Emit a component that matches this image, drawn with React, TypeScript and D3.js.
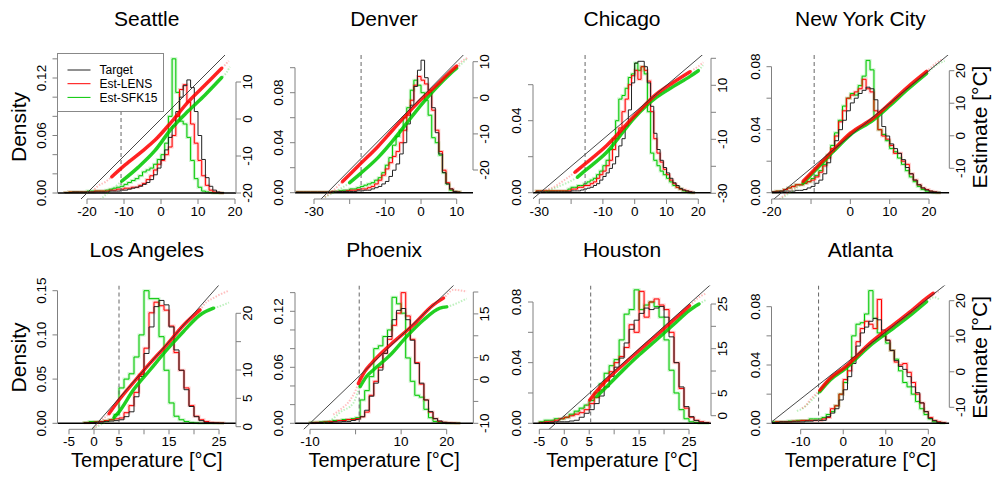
import React from "react";
import * as d3 from "d3";

type Pair = [number, number];

const FONT = "'Liberation Sans', Arial, Helvetica, sans-serif";
const RED = "#ff0000";
const GREEN = "#00c800";
const AXIS = "#808080";

// ---------------- data ----------------
const cityNames = ["Seattle", "Denver", "Chicago", "New York City", "Los Angeles", "Phoenix", "Houston", "Atlanta"];
const seriesNames = ["Target", "Est-LENS", "Est-SFK15"];

// Seattle (1°C bins from seaStart)
const seaStart = -26;
const seaTarget = [0.0005, 0.0005, 0.001, 0.001, 0.001, 0.001, 0.001, 0.001, 0.001, 0.001,
  0.001, 0.001, 0.002, 0.002, 0.002, 0.003, 0.003, 0.004, 0.005, 0.006,
  0.007, 0.009, 0.011, 0.014, 0.019, 0.026,
  0.035, 0.045, 0.058, 0.070, 0.085, 0.100, 0.112, 0.118, 0.110, 0.085,
  0.060, 0.035, 0.016, 0.007, 0.003, 0.001, 0.0005];
const seaLens = [0.0005, 0.001, 0.001, 0.001, 0.001, 0.001, 0.001, 0.001, 0.002, 0.002,
  0.002, 0.002, 0.003, 0.003, 0.004, 0.004, 0.005, 0.005, 0.006, 0.006,
  0.008, 0.010, 0.014, 0.018, 0.024, 0.030,
  0.034, 0.040, 0.048, 0.060, 0.080, 0.108, 0.113, 0.095, 0.072, 0.052,
  0.034, 0.018, 0.008, 0.003, 0.001, 0.0005, 0];
const seaSfk = [0.0005, 0.001, 0.001, 0.001, 0.001, 0.001, 0.002, 0.002, 0.002, 0.002,
  0.002, 0.003, 0.004, 0.005, 0.006, 0.007, 0.009, 0.011, 0.013, 0.015,
  0.018, 0.022, 0.024, 0.026, 0.030, 0.035,
  0.040, 0.052, 0.080, 0.140, 0.105, 0.075, 0.072, 0.058, 0.034, 0.015,
  0.006, 0.002, 0.001, 0.0005, 0, 0, 0];
const seaLensQQ: Pair[] = [[-18, -19], [-16.9, -18], [-15, -17], [-13.3, -15.6], [-9.7, -12.4], [-5.2, -8.8], [-1.6, -5.7], [2.9, -0.7], [7.4, 4.7], [11.9, 9.2], [16.4, 13.7], [17.5, 14.8], [18.3, 15.7]];
const seaLensCore = [3, 11];
const seaSfkQQ: Pair[] = [[-17, -22.4], [-15, -20.5], [-13, -18.8], [-10.6, -16.8], [-6.1, -13], [-1.6, -8.5], [2.9, -2.5], [7.4, 2.2], [11.9, 6.5], [16.4, 11.2], [17.6, 12.4], [18.6, 14.1]];
const seaSfkCore = [3, 10];
const seaCut = -10.8;

// Denver
const denStart = -35;
const denTarget = [0.0005, 0.0005, 0.0005, 0.0005, 0.0005, 0.0005, 0.0005, 0.0005, 0.0005, 0.0005,
  0.001, 0.001, 0.001, 0.001, 0.001, 0.001, 0.001, 0.0015, 0.0015, 0.002,
  0.002, 0.003, 0.004, 0.005, 0.007, 0.009, 0.013, 0.018, 0.023, 0.031,
  0.040, 0.055, 0.070, 0.085, 0.098, 0.106, 0.092, 0.082, 0.068, 0.048,
  0.031, 0.016, 0.007, 0.003, 0.001, 0.0005];
const denLens = [0.0005, 0.0005, 0.0005, 0.0005, 0.0005, 0.0005, 0.0005, 0.0005, 0.0005, 0.0005,
  0.001, 0.001, 0.001, 0.001, 0.0015, 0.002, 0.002, 0.0025, 0.003, 0.003,
  0.004, 0.005, 0.007, 0.010, 0.014, 0.019, 0.024, 0.029, 0.033, 0.040,
  0.050, 0.062, 0.074, 0.086, 0.093, 0.090, 0.087, 0.080, 0.066, 0.050,
  0.033, 0.018, 0.008, 0.003, 0.001, 0.0005];
const denSfk = [0.0005, 0.0005, 0.0005, 0.0005, 0.0005, 0.0005, 0.0005, 0.0005, 0.0005, 0.0005,
  0.001, 0.001, 0.0015, 0.002, 0.002, 0.003, 0.003, 0.004, 0.005, 0.006,
  0.007, 0.008, 0.010, 0.012, 0.016, 0.022, 0.028, 0.038, 0.045, 0.050,
  0.060, 0.068, 0.082, 0.090, 0.086, 0.080, 0.074, 0.062, 0.044, 0.040,
  0.030, 0.016, 0.007, 0.002, 0.001, 0.0005];
const denLensQQ: Pair[] = [[-27, -27.5], [-25, -26], [-22, -23.2], [-17, -18.3], [-12, -13.4], [-8, -9], [-4, -4.6], [0, -0.5], [4, 3.2], [8, 7], [10, 8.8], [12, 10.5], [13, 11]];
const denLensCore = [2, 11];
const denSfkQQ: Pair[] = [[-27, -27.5], [-24, -26], [-20, -23.5], [-17, -21], [-12, -16.5], [-8, -12], [-4, -7], [0, -2], [4, 2.5], [8, 6.5], [10, 8.2], [12, 10], [13, 11]];
const denSfkCore = [2, 11];
const denCut = -16.8;

// Chicago
const chiStart = -31;
const chiTarget = [0.0005, 0.0005, 0.0005, 0.0005, 0.0005, 0.0005, 0.0005, 0.0005, 0.0005, 0.0005,
  0.0005, 0.001, 0.001, 0.001, 0.0015, 0.002, 0.0025, 0.003, 0.004, 0.005,
  0.007, 0.009, 0.011, 0.0135, 0.016, 0.020, 0.026, 0.030, 0.037, 0.046,
  0.061, 0.072, 0.073, 0.073, 0.070, 0.061, 0.048, 0.033, 0.024, 0.018,
  0.014, 0.011, 0.008, 0.0055, 0.004, 0.0024, 0.0015, 0.001, 0.0005, 0.0003];
const chiLens = [0.001, 0.001, 0.001, 0.001, 0.001, 0.001, 0.001, 0.001, 0.001, 0.001,
  0.001, 0.002, 0.002, 0.003, 0.003, 0.004, 0.004, 0.005, 0.006, 0.008,
  0.010, 0.012, 0.015, 0.018, 0.024, 0.030, 0.036, 0.045, 0.052, 0.060,
  0.065, 0.068, 0.063, 0.070, 0.068, 0.062, 0.045, 0.030, 0.022, 0.017,
  0.013, 0.010, 0.007, 0.005, 0.003, 0.002, 0.0015, 0.001, 0.0005, 0];
const chiSfk = [0.001, 0.001, 0.001, 0.001, 0.001, 0.001, 0.001, 0.001, 0.001, 0.001,
  0.002, 0.003, 0.003, 0.004, 0.004, 0.005, 0.006, 0.007, 0.008, 0.010,
  0.012, 0.015, 0.018, 0.024, 0.030, 0.040, 0.052, 0.054, 0.058, 0.064,
  0.066, 0.072, 0.068, 0.070, 0.066, 0.045, 0.022, 0.018, 0.015, 0.012,
  0.010, 0.008, 0.006, 0.004, 0.003, 0.002, 0.001, 0.0005, 0, 0];
const chiLensQQ: Pair[] = [[-29, -29], [-26, -28], [-22, -25], [-18.8, -22.2], [-15.6, -19.1], [-8.8, -12.3], [0, -1.2], [6.9, 6.8], [12.2, 11.1], [17.4, 15], [20, 17], [21.6, 18.5]];
const chiLensCore = [3, 10];
const chiSfkQQ: Pair[] = [[-28, -29.5], [-25, -28], [-22, -26.5], [-18, -24], [-15.6, -21.6], [-8.8, -14.8], [0, -1.9], [6.9, 5.6], [12.2, 9.6], [17.4, 13.3], [20, 15.4], [21.5, 17.5]];
const chiSfkCore = [3, 11];
const chiCut = -15.6;

// New York City
const nycStart = -20;
const nycTarget = [0.0005, 0.0005, 0.001, 0.001, 0.001, 0.001, 0.0015, 0.0015, 0.002, 0.003,
  0.004, 0.006, 0.008, 0.012, 0.019, 0.026, 0.033, 0.040, 0.046, 0.052,
  0.057, 0.060, 0.063, 0.065, 0.067, 0.066, 0.059, 0.051, 0.042, 0.036,
  0.031, 0.028, 0.025, 0.021, 0.016, 0.012, 0.008, 0.005, 0.003, 0.0017,
  0.001, 0.0005, 0.0003];
const nycLens = [0.0005, 0.001, 0.001, 0.002, 0.003, 0.004, 0.005, 0.005, 0.006, 0.007,
  0.008, 0.010, 0.013, 0.017, 0.022, 0.028, 0.036, 0.045, 0.052, 0.060,
  0.062, 0.064, 0.066, 0.072, 0.066, 0.064, 0.052, 0.040, 0.036, 0.034,
  0.030, 0.025, 0.025, 0.020, 0.018, 0.012, 0.008, 0.005, 0.003, 0.002,
  0.001, 0.0005, 0];
const nycSfk = [0.0005, 0.001, 0.001, 0.002, 0.003, 0.004, 0.005, 0.005, 0.006, 0.007,
  0.009, 0.011, 0.014, 0.018, 0.024, 0.030, 0.038, 0.046, 0.055, 0.060,
  0.063, 0.062, 0.068, 0.074, 0.084, 0.078, 0.048, 0.040, 0.037, 0.033,
  0.028, 0.026, 0.022, 0.018, 0.014, 0.010, 0.007, 0.004, 0.002, 0.001,
  0.0005, 0, 0];
const nycLensQQ: Pair[] = [[-18, -19.5], [-16, -17.5], [-14, -16], [-12, -14], [-9.2, -10.5], [-4.3, -4.3], [0, 0.8], [5.8, 5.4], [10.1, 10], [14.3, 14.7], [19.4, 19.8], [22, 22.5], [23.5, 23.5]];
const nycLensCore = [3, 11];
const nycSfkQQ: Pair[] = [[-18, -19.8], [-16, -18], [-14, -16.3], [-12, -14.5], [-9.2, -11], [-4.3, -4.8], [0, 0.3], [5.8, 4.8], [10.1, 9.3], [14.3, 14], [19.4, 19.2], [22, 21.8], [24, 23]];
const nycSfkCore = [3, 11];
const nycCut = -9.2;

// Los Angeles
const laStart = -2;
const laTarget = [0.0003, 0.0005, 0.001, 0.0015, 0.002, 0.0025, 0.003, 0.004, 0.0075, 0.013,
  0.030, 0.053, 0.079, 0.109, 0.132, 0.139, 0.134, 0.109, 0.083, 0.060,
  0.038, 0.019, 0.0075, 0.003, 0.001, 0.0005, 0.0003, 0];
const laLens = [0.0005, 0.001, 0.0015, 0.002, 0.003, 0.004, 0.005, 0.006, 0.012, 0.020,
  0.035, 0.055, 0.085, 0.125, 0.137, 0.133, 0.128, 0.110, 0.080, 0.060,
  0.040, 0.020, 0.008, 0.004, 0.002, 0.001, 0.0005, 0.0003];
const laSfk = [0.001, 0.002, 0.002, 0.002, 0.003, 0.004, 0.010, 0.040, 0.050, 0.056,
  0.075, 0.100, 0.150, 0.141, 0.141, 0.098, 0.060, 0.023, 0.008, 0.004,
  0.002, 0.001, 0.0005, 0, 0, 0, 0, 0];
const laLensQQ: Pair[] = [[0, -0.3], [1.2, 0.9], [3, 2.3], [5, 4.7], [8, 7.9], [11.2, 11.2], [14.5, 14.4], [17.9, 17.9], [21.2, 20.6], [22.5, 22], [23.5, 22.5], [24.5, 23], [27, 24]];
const laLensCore = [2, 9];
const laSfkQQ: Pair[] = [[-0.8, -0.6], [1, 0.2], [2.5, 0.9], [4, 1.6], [5, 2.6], [7.9, 6.5], [11.2, 10], [14.5, 13.5], [17.9, 16.8], [21.2, 19.7], [23.9, 20.9], [25, 21.2], [27, 21.9]];
const laSfkCore = [3, 11];
const laCut = 5;

// Phoenix
const phxStart = -10;
const phxTarget = [0.0005, 0.0005, 0.001, 0.001, 0.001, 0.0015, 0.0015, 0.002, 0.002, 0.003,
  0.004, 0.007, 0.014, 0.029, 0.043, 0.057, 0.075, 0.093, 0.111, 0.121,
  0.123, 0.111, 0.089, 0.064, 0.043, 0.025, 0.0125, 0.005, 0.0025, 0.001,
  0.0005, 0.0003, 0];
const phxLens = [0.0005, 0.001, 0.001, 0.0015, 0.002, 0.002, 0.003, 0.003, 0.004, 0.004,
  0.005, 0.007, 0.012, 0.030, 0.045, 0.060, 0.075, 0.090, 0.105, 0.118,
  0.140, 0.115, 0.090, 0.065, 0.042, 0.025, 0.012, 0.005, 0.002, 0.001,
  0.0005, 0.0003, 0];
const phxSfk = [0.001, 0.001, 0.0015, 0.002, 0.002, 0.003, 0.003, 0.004, 0.004, 0.005,
  0.006, 0.025, 0.035, 0.050, 0.080, 0.083, 0.093, 0.100, 0.135, 0.128,
  0.118, 0.070, 0.045, 0.030, 0.028, 0.015, 0.006, 0.002, 0.001, 0.0005,
  0, 0, 0];
const phxLensQQ: Pair[] = [[-4.9, -8], [-3.4, -6.9], [-1.2, -4.7], [0, -2.5], [0.6, -0.9], [2, 1.8], [3.5, 3.7], [7.6, 7.9], [12.7, 12.5], [17, 17], [19.3, 18.6], [21.5, 20.5], [24.4, 20.1]];
const phxLensCore = [4, 11];
const phxSfkQQ: Pair[] = [[-7, -10], [-5, -9], [-3.4, -7.5], [-0.5, -5.4], [1, -1.6], [2.4, 0.7], [3.9, 2.2], [7.6, 5.6], [11.2, 9.8], [14.9, 13.6], [18.5, 16.3], [20, 16.6], [24.4, 18.5]];
const phxSfkCore = [4, 12];
const phxCut = 0.8;

// Houston
const houStart = -5;
const houTarget = [0.0003, 0.0005, 0.0007, 0.001, 0.001, 0.001, 0.0015, 0.002, 0.004, 0.0066,
  0.009, 0.013, 0.018, 0.024, 0.031, 0.037, 0.043, 0.053, 0.062, 0.068,
  0.0725, 0.076, 0.075, 0.076, 0.077, 0.070, 0.057, 0.040, 0.024, 0.011,
  0.0044, 0.0018, 0.0007, 0.0003];
const houLens = [0.0005, 0.001, 0.001, 0.002, 0.003, 0.004, 0.005, 0.006, 0.007, 0.009,
  0.013, 0.017, 0.022, 0.028, 0.034, 0.040, 0.044, 0.050, 0.065, 0.060,
  0.087, 0.070, 0.080, 0.082, 0.078, 0.075, 0.060, 0.040, 0.023, 0.010,
  0.004, 0.002, 0.001, 0.0005];
const houSfk = [0.001, 0.002, 0.002, 0.003, 0.003, 0.004, 0.006, 0.008, 0.010, 0.012,
  0.015, 0.020, 0.026, 0.033, 0.038, 0.042, 0.055, 0.072, 0.075, 0.088,
  0.075, 0.078, 0.080, 0.077, 0.070, 0.055, 0.035, 0.020, 0.009, 0.003,
  0.001, 0.0005, 0, 0];
const houLensQQ: Pair[] = [[-4.9, -1.6], [-2, -1], [1.8, 0.2], [4, 1.8], [5.1, 3.5], [6.5, 5.5], [8.5, 8], [11.8, 11.4], [15.1, 14.7], [18.5, 18], [21.8, 21.3], [25.1, 24.6], [27, 26.5], [28.5, 27.4]];
const houLensCore = [4, 12];
const houSfkQQ: Pair[] = [[-1, -1], [1.5, 0], [4, 2], [6.5, 4.3], [8.5, 6.5], [11.8, 10.2], [15.1, 13.7], [18.5, 17], [21.8, 20.3], [25.1, 23.6], [27, 25], [28.5, 26]];
const houSfkCore = [3, 11];
const houCut = 5.3;

// Atlanta
const atlStart = -17;
const atlTarget = [0.0005, 0.0005, 0.001, 0.001, 0.001, 0.001, 0.001, 0.001, 0.0015, 0.0015,
  0.002, 0.002, 0.002, 0.0045, 0.007, 0.010, 0.016, 0.023, 0.032, 0.041,
  0.053, 0.062, 0.066, 0.070, 0.072, 0.071, 0.064, 0.057, 0.050, 0.043,
  0.039, 0.037, 0.032, 0.025, 0.021, 0.014, 0.008, 0.0034, 0.0018, 0.0007,
  0.0003];
const atlLens = [0.0005, 0.001, 0.001, 0.001, 0.001, 0.0015, 0.0015, 0.002, 0.002, 0.002,
  0.002, 0.002, 0.003, 0.004, 0.010, 0.012, 0.020, 0.030, 0.036, 0.045,
  0.056, 0.065, 0.070, 0.068, 0.065, 0.085, 0.060, 0.057, 0.050, 0.042,
  0.040, 0.041, 0.035, 0.028, 0.020, 0.014, 0.008, 0.004, 0.002, 0.001,
  0.0005];
const atlSfk = [0.001, 0.001, 0.001, 0.001, 0.0015, 0.0015, 0.002, 0.002, 0.002, 0.003,
  0.003, 0.003, 0.004, 0.006, 0.008, 0.012, 0.020, 0.028, 0.040, 0.060,
  0.068, 0.069, 0.075, 0.091, 0.072, 0.062, 0.060, 0.055, 0.050, 0.044,
  0.036, 0.028, 0.025, 0.020, 0.015, 0.010, 0.006, 0.003, 0.001, 0.0005,
  0];
const atlLensQQ: Pair[] = [[-7.4, -10.3], [-6.5, -9.5], [-5.6, -8], [-3.4, -5.2], [-1.1, -1.8], [2.2, 1.3], [7.7, 8], [13, 13.3], [17, 17.2], [20.3, 20.7], [21.8, 22.1], [23, 22.5]];
const atlLensCore = [3, 11];
const atlSfkQQ: Pair[] = [[-8.5, -11], [-7.4, -10.5], [-5.6, -8.5], [-3.4, -5.6], [-1.1, -2.3], [2.2, 0.8], [7.7, 7.3], [13, 12.3], [17, 16.2], [20.3, 19.7], [22, 21], [23.3, 20.2]];
const atlSfkCore = [3, 10];
const atlCut = -5.8;

// tick values and which of them carry labels
const seaXTicks = [-20, -10, 0, 10, 20], seaXLabels = [-20, -10, 0, 10, 20];
const seaDTicks = [0, 0.02, 0.04, 0.06, 0.08, 0.1, 0.12, 0.14], seaDLabels = [0, 0.06, 0.12];
const seaETicks = [-20, -10, 0, 10], seaELabels = [-20, -10, 0, 10];
const denXTicks = [-30, -20, -10, 0, 10], denXLabels = [-30, -10, 0, 10];
const denDTicks = [0, 0.02, 0.04, 0.06, 0.08, 0.1], denDLabels = [0, 0.04, 0.08];
const denETicks = [-20, -10, 0, 10], denELabels = [-20, -10, 0, 10];
const chiXTicks = [-30, -20, -10, 0, 10, 20], chiXLabels = [-30, -10, 0, 10, 20];
const chiDTicks = [0, 0.02, 0.04, 0.06], chiDLabels = [0, 0.04];
const chiETicks = [-30, -20, -10, 0, 10, 20], chiELabels = [-30, -10, 10];
const nycXTicks = [-20, -10, 0, 10, 20], nycXLabels = [-20, 0, 10, 20];
const nycDTicks = [0, 0.02, 0.04, 0.06, 0.08], nycDLabels = [0, 0.04, 0.08];
const nycETicks = [-10, 0, 10, 20], nycELabels = [-10, 0, 10, 20];
const laXTicks = [-5, 0, 5, 10, 15, 20, 25], laXLabels = [-5, 0, 5, 15, 25];
const laDTicks = [0, 0.05, 0.1, 0.15], laDLabels = [0, 0.05, 0.1, 0.15];
const laETicks = [0, 5, 10, 15, 20], laELabels = [0, 5, 10, 20];
const phxXTicks = [-10, 0, 10, 20], phxXLabels = [-10, 10, 20];
const phxDTicks = [0, 0.02, 0.04, 0.06, 0.08, 0.1, 0.12, 0.14], phxDLabels = [0, 0.06, 0.12];
const phxETicks = [-10, -5, 0, 5, 10, 15, 20], phxELabels = [-10, 0, 5, 15];
const houXTicks = [-5, 0, 5, 10, 15, 20, 25], houXLabels = [-5, 0, 5, 15, 25];
const houDTicks = [0, 0.02, 0.04, 0.06, 0.08], houDLabels = [0, 0.04, 0.08];
const houETicks = [0, 5, 10, 15, 20, 25], houELabels = [0, 5, 15, 25];
const atlXTicks = [-10, 0, 10, 20], atlXLabels = [-10, 0, 10, 20];
const atlDTicks = [0, 0.02, 0.04, 0.06, 0.08], atlDLabels = [0, 0.04, 0.08];
const atlETicks = [-10, 0, 10, 20], atlELabels = [-10, 0, 10, 20];

const panels = [
  { start: seaStart, target: seaTarget, lens: seaLens, sfk: seaSfk, lensQQ: seaLensQQ, lensCore: seaLensCore, sfkQQ: seaSfkQQ, sfkCore: seaSfkCore, cut: seaCut, xT: seaXTicks, xL: seaXLabels, dT: seaDTicks, dL: seaDLabels, eT: seaETicks, eL: seaELabels },
  { start: denStart, target: denTarget, lens: denLens, sfk: denSfk, lensQQ: denLensQQ, lensCore: denLensCore, sfkQQ: denSfkQQ, sfkCore: denSfkCore, cut: denCut, xT: denXTicks, xL: denXLabels, dT: denDTicks, dL: denDLabels, eT: denETicks, eL: denELabels },
  { start: chiStart, target: chiTarget, lens: chiLens, sfk: chiSfk, lensQQ: chiLensQQ, lensCore: chiLensCore, sfkQQ: chiSfkQQ, sfkCore: chiSfkCore, cut: chiCut, xT: chiXTicks, xL: chiXLabels, dT: chiDTicks, dL: chiDLabels, eT: chiETicks, eL: chiELabels },
  { start: nycStart, target: nycTarget, lens: nycLens, sfk: nycSfk, lensQQ: nycLensQQ, lensCore: nycLensCore, sfkQQ: nycSfkQQ, sfkCore: nycSfkCore, cut: nycCut, xT: nycXTicks, xL: nycXLabels, dT: nycDTicks, dL: nycDLabels, eT: nycETicks, eL: nycELabels },
  { start: laStart, target: laTarget, lens: laLens, sfk: laSfk, lensQQ: laLensQQ, lensCore: laLensCore, sfkQQ: laSfkQQ, sfkCore: laSfkCore, cut: laCut, xT: laXTicks, xL: laXLabels, dT: laDTicks, dL: laDLabels, eT: laETicks, eL: laELabels },
  { start: phxStart, target: phxTarget, lens: phxLens, sfk: phxSfk, lensQQ: phxLensQQ, lensCore: phxLensCore, sfkQQ: phxSfkQQ, sfkCore: phxSfkCore, cut: phxCut, xT: phxXTicks, xL: phxXLabels, dT: phxDTicks, dL: phxDLabels, eT: phxETicks, eL: phxELabels },
  { start: houStart, target: houTarget, lens: houLens, sfk: houSfk, lensQQ: houLensQQ, lensCore: houLensCore, sfkQQ: houSfkQQ, sfkCore: houSfkCore, cut: houCut, xT: houXTicks, xL: houXLabels, dT: houDTicks, dL: houDLabels, eT: houETicks, eL: houELabels },
  { start: atlStart, target: atlTarget, lens: atlLens, sfk: atlSfk, lensQQ: atlLensQQ, lensCore: atlLensCore, sfkQQ: atlSfkQQ, sfkCore: atlSfkCore, cut: atlCut, xT: atlXTicks, xL: atlXLabels, dT: atlDTicks, dL: atlDLabels, eT: atlETicks, eL: atlELabels },
];

// ---------------- layout (pixel geometry of each plot region) ----------------
const layouts: any[] = [
  { box: [57.5, 236, 55, 199], x: [[-20, 20], [87, 235]], d: [[0, 0.12], [193, 78]], e: [[-20, 10], [193, 82]] },
  { box: [295, 473, 55, 199], x: [[-30, 10], [314, 456.7]], d: [[0, 0.08], [192.7, 92.7]], e: [[-20, 10], [170, 61.7]] },
  { box: [533, 711, 55, 199], x: [[-30, 20], [539.3, 698.3]], d: [[0, 0.04], [192.7, 120.7]], e: [[-30, 20], [193.3, 58.3]] },
  { box: [771.5, 949.3, 55, 199], x: [[-20, 20], [771.7, 929]], d: [[0, 0.08], [192.7, 66.7]], e: [[-10, 20], [168.3, 70.7]] },
  { box: [57.5, 236, 285.5, 429.3], x: [[-5, 25], [69, 219]], d: [[0, 0.15], [423.3, 290.7]], e: [[0, 20], [426.7, 313.3]] },
  { box: [295, 473.3, 285.5, 429.3], x: [[-10, 20], [310, 446.7]], d: [[0, 0.12], [423.3, 311.3]], e: [[-10, 20], [423.3, 292]] },
  { box: [533, 711, 285.5, 429.3], x: [[-5, 25], [539.3, 689]], d: [[0, 0.08], [423.3, 302]], e: [[0, 25], [415.7, 304]] },
  { box: [771.5, 949.3, 285.5, 429.3], x: [[-10, 20], [800.7, 928.3]], d: [[0, 0.08], [423.3, 306.7]], e: [[-10, 20], [407.3, 300.7]], q: [[-14.08, 24.4], [771.7, 945]] },
];

function stepPoints(start: number, vals: number[]): Pair[] {
  const pts: Pair[] = [[start, 0]];
  vals.forEach((v, i) => {
    pts.push([start + i, v]);
    pts.push([start + i + 1, v]);
  });
  pts.push([start + vals.length, 0]);
  return pts;
}

function Panel({ p, L, idx }: { p: any; L: any; idx: number }) {
  const [left, right, top, bottom] = L.box;
  const x = d3.scaleLinear().domain(L.x[0]).range(L.x[1]);
  const yd = d3.scaleLinear().domain(L.d[0]).range(L.d[1]);
  const ye = d3.scaleLinear().domain(L.e[0]).range(L.e[1]);
  const xq = L.q ? d3.scaleLinear().domain(L.q[0]).range(L.q[1]) : x;
  const hist = d3.line<Pair>().x((d) => x(d[0])).y((d) => yd(d[1]));
  const qq = d3.line<Pair>().x((d) => xq(d[0])).y((d) => ye(d[1])).curve(d3.curveMonotoneX);
  const straight = d3.line<Pair>().x((d) => xq(d[0])).y((d) => ye(d[1]));
  const lo = Math.min(xq.invert(left), ye.invert(bottom)) - 5;
  const hi = Math.max(xq.invert(right), ye.invert(top)) + 5;
  const clip = `clip${idx}`;
  const base = yd(0);
  const cx = (left + right) / 2;
  const fmtD = (v: number) => v.toFixed(2);
  const last = (a: number[]) => a[a.length - 1];
  const core = (a: Pair[], c: number[]) => a.slice(c[0], c[1]);

  return (
    <g>
      <defs>
        <clipPath id={clip}>
          <rect x={left} y={top} width={right - left} height={bottom - top} />
        </clipPath>
      </defs>
      <g clipPath={`url(#${clip})`}>
        <path d={hist(stepPoints(p.start, p.sfk)) || ""} fill="none" stroke={GREEN} strokeWidth={3} strokeOpacity={0.2} />
        <path d={hist(stepPoints(p.start, p.lens)) || ""} fill="none" stroke={RED} strokeWidth={3} strokeOpacity={0.2} />
        <path d={hist(stepPoints(p.start, p.sfk)) || ""} fill="none" stroke={GREEN} strokeWidth={1} />
        <path d={hist(stepPoints(p.start, p.lens)) || ""} fill="none" stroke={RED} strokeWidth={1} />
        <path d={hist(stepPoints(p.start, p.target)) || ""} fill="none" stroke="#222" strokeWidth={1} />
        <line x1={left} x2={right} y1={base} y2={base} stroke="#000" strokeWidth={1.4} />
        <line x1={x(p.cut)} x2={x(p.cut)} y1={top} y2={base} stroke="#666" strokeWidth={1} strokeDasharray="4,3" />
        <path d={qq(p.sfkQQ) || ""} fill="none" stroke={GREEN} strokeWidth={2} strokeOpacity={0.25} strokeDasharray="1.5,1.5" />
        <path d={qq(p.lensQQ) || ""} fill="none" stroke={RED} strokeWidth={2} strokeOpacity={0.25} strokeDasharray="1.5,1.5" />
        <path d={qq(core(p.sfkQQ, p.sfkCore)) || ""} fill="none" stroke={GREEN} strokeWidth={3.5} strokeOpacity={0.85} strokeLinecap="round" />
        <path d={qq(core(p.lensQQ, p.lensCore)) || ""} fill="none" stroke={RED} strokeWidth={3.5} strokeOpacity={0.85} strokeLinecap="round" />
        <path d={straight([[lo, lo], [hi, hi]]) || ""} fill="none" stroke="#333" strokeWidth={0.9} />
      </g>
      <g stroke={AXIS} strokeWidth={1}>
        <line x1={x(p.xT[0])} x2={x(last(p.xT))} y1={bottom} y2={bottom} />
        {p.xT.map((t: number) => (
          <line key={"xt" + t} x1={x(t)} x2={x(t)} y1={bottom} y2={bottom + 5} />
        ))}
        <line x1={left} x2={left} y1={yd(p.dT[0])} y2={yd(last(p.dT))} />
        {p.dT.map((t: number) => (
          <line key={"dt" + t} x1={left - 5} x2={left} y1={yd(t)} y2={yd(t)} />
        ))}
        <line x1={right} x2={right} y1={ye(p.eT[0])} y2={ye(last(p.eT))} />
        {p.eT.map((t: number) => (
          <line key={"et" + t} x1={right} x2={right + 5} y1={ye(t)} y2={ye(t)} />
        ))}
      </g>
      <g fontSize={13.5} fill="#000">
        {p.xL.map((t: number) => (
          <text key={"xl" + t} x={x(t)} y={bottom + 16.5} textAnchor="middle">{t}</text>
        ))}
        {p.dL.map((t: number) => (
          <text key={"dl" + t} transform={`translate(${left - 16.5},${yd(t)}) rotate(-90)`} textAnchor="middle" dy="0.36em">{fmtD(t)}</text>
        ))}
        {p.eL.map((t: number) => (
          <text key={"el" + t} transform={`translate(${right + 11},${ye(t)}) rotate(-90)`} textAnchor="middle" dy="0.36em">{t}</text>
        ))}
      </g>
      <text x={cx} y={top - 29} textAnchor="middle" fontSize={21}>{cityNames[idx]}</text>
    </g>
  );
}

function Legend({ L }: { L: any }) {
  const [left, , top] = L.box;
  const colors = ["#222", RED, GREEN];
  const rowY = [70, 83.7, 97.4];
  return (
    <g>
      <rect x={left} y={top - 1.5} width={106} height={58} fill="#fff" stroke="#888" strokeWidth={1} />
      {seriesNames.map((s, i) => (
        <g key={s}>
          <line x1={left + 10} x2={left + 33} y1={rowY[i]} y2={rowY[i]} stroke={colors[i]} strokeWidth={1} />
          <text x={left + 42} y={rowY[i]} dy="0.36em" fontSize={12}>{s}</text>
        </g>
      ))}
    </g>
  );
}

export default function App() {
  const topMid = (layouts[0].box[2] + layouts[0].box[3]) / 2;
  const botMid = (layouts[4].box[2] + layouts[4].box[3]) / 2;
  return (
    <svg width={995} height={478} style={{ position: "absolute", left: 0, top: 0, background: "#fff" }} fontFamily={FONT}>
      <rect width={995} height={478} fill="#fff" />
      {panels.map((p, i) => (
        <Panel key={i} p={p} L={layouts[i]} idx={i} />
      ))}
      <Legend L={layouts[0]} />
      {[topMid, botMid].map((cy, i) => (
        <text key={"dy" + i} transform={`translate(21,${cy}) rotate(-90)`} textAnchor="middle" dy="0.26em" fontSize={21}>Density</text>
      ))}
      {[topMid, botMid].map((cy, i) => (
        <text key={"ey" + i} transform={`translate(982,${cy}) rotate(-90)`} textAnchor="middle" dy="0.26em" fontSize={21}>Estimate [°C]</text>
      ))}
      {[4, 5, 6, 7].map((i) => (
        <text key={"tx" + i} x={(layouts[i].box[0] + layouts[i].box[1]) / 2} y={466.5} textAnchor="middle" fontSize={20}>Temperature [°C]</text>
      ))}
    </svg>
  );
}
